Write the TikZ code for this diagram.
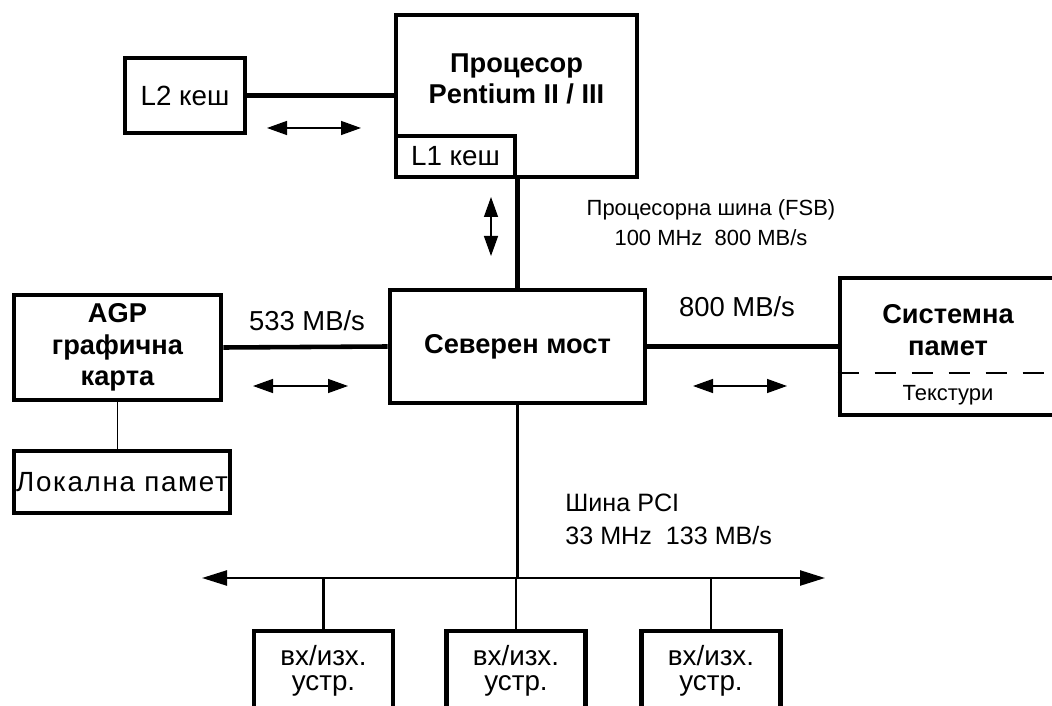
\documentclass[tikz,border=0pt]{standalone}
\usepackage{fontspec}
\setmainfont{Liberation Sans}
\usetikzlibrary{arrows.meta,positioning}

\begin{document}
\begin{tikzpicture}[
  block/.style={
    draw, line width=2.6pt,
    inner sep=0pt, align=center,
    font=\fontsize{15.8}{18}\selectfont},
  boldblock/.style={
    block,
    font=\fontsize{15.5}{18}\selectfont\bfseries},
  iobox/.style={
    block,
    minimum width=2.78cm,
    minimum height=1.6cm,
    font=\fontsize{15.8}{14.5}\selectfont},
  boldtxt/.style={
    inner sep=0pt, align=center,
    font=\fontsize{15.5}{18}\selectfont\bfseries},
  smalltxt/.style={
    inner sep=0pt, align=center,
    font=\fontsize{12.5}{17}\selectfont},
  pcitxt/.style={
    inner sep=0pt, align=left,
    font=\fontsize{14.3}{18.5}\selectfont},
  ratetxt/.style={
    inner sep=0pt,
    font=\fontsize{15.6}{18}\selectfont},
  link/.style={line width=2.6pt},
  buswire/.style={line width=1.35pt},
  thinwire/.style={line width=0.8pt},
  divider/.style={line width=0.8pt,
    dash pattern=on 0.42cm off 0.32cm},
  flow/.style={line width=0.8pt,
    {Triangle[length=0.4cm,width=0.28cm]}-{Triangle[length=0.4cm,width=0.28cm]}},
  pcibus/.style={line width=1.35pt,
    {Triangle[length=0.5cm,width=0.3cm]}-{Triangle[length=0.5cm,width=0.3cm]}}
]
\useasboundingbox (0,0) rectangle (21.04,-14.12);

\node[block, minimum width=2.40cm, minimum height=1.50cm]
  (l2) at (3.70,-1.91) {L2 кеш};
\node[block, minimum width=4.82cm, minimum height=3.24cm]
  (cpu) at (10.33,-1.92) {};
\node[boldtxt] (cputext) at (10.33,-1.58)
  {Процесор\\Pentium II / III};
\node[block, anchor=south west, minimum width=2.38cm, minimum height=0.82cm]
  (l1) at (cpu.south west) {L1 кеш};

\node[boldblock, minimum width=5.10cm, minimum height=2.26cm]
  (nb) at (10.35,-6.93) {Северен мост};
\node[boldblock, minimum width=4.14cm, minimum height=2.10cm]
  (agp) at (2.35,-6.95) {AGP\\графична\\карта};
\node[block, minimum width=4.32cm, minimum height=1.24cm]
  (locmem) at (2.44,-9.64) {\addfontfeature{LetterSpace=6}Локална памет};

\node[block, minimum width=4.36cm, minimum height=2.74cm]
  (sysmem) at (18.98,-6.93) {};
\node[boldtxt] (sysmemtext) at (18.96,-6.60) {Системна\\памет};
\node[smalltxt] (textures) at (18.96,-7.90) {Текстури};
\draw[divider] ([yshift=-0.53cm]sysmem.west)
  -- ([yshift=-0.53cm]sysmem.east);

\draw[link] (l2.east) -- (l2.east -| cpu.west);
\draw[link] (l1.south east) -- (l1.south east |- nb.north);
\draw[link] (agp.east) -- (nb.west);
\draw[link] (nb.east) -- (sysmem.west);
\draw[thinwire] (agp.south) -- (agp.south |- locmem.north);

\node[ratetxt] (agprate) at (6.14,-6.42) {533 MB/s};
\node[ratetxt] (memrate) at (14.74,-6.14) {800 MB/s};
\node[smalltxt] (fsb) at (14.22,-4.46)
  {Процесорна шина (FSB)\\100 MHz\ \ 800 MB/s};
\node[pcitxt, anchor=south west] (pci) at (11.30,-10.90)
  {Шина PCI\\33 MHz\ \ 133 MB/s};

\draw[flow] (5.34,-2.56) -- (7.22,-2.56);
\draw[flow] (9.82,-3.94) -- (9.82,-5.12);
\draw[flow] (5.06,-7.72) -- (6.96,-7.72);
\draw[flow] (13.86,-7.72) -- (15.74,-7.72);

\coordinate (pciL) at (4.04,-11.56);
\coordinate (pciR) at (16.50,-11.56);
\draw[pcibus] (pciL) -- (pciR);
\draw[buswire] (nb.south) -- (nb.south |- pciL);
\foreach \n/\x in {io1/6.47, io2/10.32, io3/14.22}{
  \node[iobox] (\n) at (\x,-13.42) {вх/изх.\\устр.};
  \draw[buswire] (\n.north) -- (\n.north |- pciL);
}
\end{tikzpicture}
\end{document}
